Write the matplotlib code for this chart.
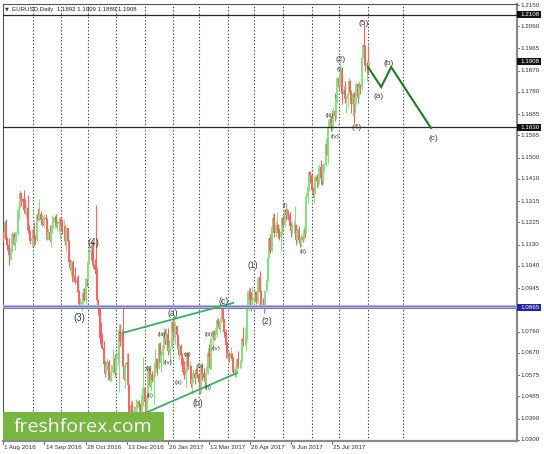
import numpy as np
import pandas as pd
import matplotlib
matplotlib.use("Agg")
import matplotlib.pyplot as plt
from matplotlib.patches import Rectangle

# ---------------- data ----------------
symbol_title = "EURUSD,Daily"
hdr_ohlc = [1.1892, 1.1909, 1.1889, 1.1908]
start_date, end_date = "2016-08-01", "2017-09-04"
first_open = 1.1175

closes = [
 1.1160,1.1225,1.1150,1.1130,1.1085, 1.1085,1.1115,1.1175,1.1135,1.1165,
 1.1180,1.1280,1.1290,1.1350,1.1325, 1.1315,1.1310,1.1265,1.1285,1.1195,
 1.1190,1.1145,1.1160,1.1195,1.1155, 1.1150,1.1255,1.1240,1.1260,1.1235,
 1.1240,1.1220,1.1245,1.1240,1.1155, 1.1185,1.1150,1.1190,1.1210,1.1225,
 1.1250,1.1215,1.1220,1.1225,1.1240, 1.1210,1.1205,1.1205,1.1145,1.1200,
 1.1145,1.1055,1.1030,1.1055,1.0970, 1.0995,1.0975,1.0970,1.0930,1.0880,
 1.0880,1.0885,1.0925,1.0895,1.0985, 1.0980,1.1055,1.1105,1.1100,1.1140,
 1.1045,1.1025,1.1005,1.0895,1.0855, 1.0735,1.0725,1.0690,1.0625,1.0585,
 1.0625,1.0630,1.0555,1.0560,1.0590, 1.0615,1.0645,1.0585,1.0645,1.0665,
 1.0765,1.0720,1.0750,1.0615,1.0560, 1.0620,1.0630,1.0535,1.0410,1.0450,
 1.0400,1.0385,1.0425,1.0440,1.0455, 1.0460,1.0455,1.0410,1.0490,1.0520,
 1.0460,1.0405,1.0485,1.0605,1.0530, 1.0575,1.0555,1.0580,1.0615,1.0645,
 1.0605,1.0710,1.0630,1.0660,1.0700, 1.0755,1.0730,1.0750,1.0680,1.0695,
 1.0695,1.0800,1.0760,1.0760,1.0785, 1.0745,1.0685,1.0700,1.0660,1.0640,
 1.0605,1.0575,1.0600,1.0670,1.0615, 1.0615,1.0540,1.0560,1.0585,1.0565,
 1.0600,1.0575,1.0545,1.0505,1.0620, 1.0580,1.0570,1.0545,1.0585,1.0670,
 1.0655,1.0605,1.0730,1.0765,1.0735, 1.0745,1.0810,1.0795,1.0780,1.0800,
 1.0865,1.0815,1.0760,1.0705,1.0650, 1.0670,1.0655,1.0665,1.0645,1.0590,
 1.0600,1.0610,1.0645,1.0615,1.0615, 1.0640,1.0730,1.0715,1.0715,1.0725,
 1.0865,1.0935,1.0895,1.0875,1.0895, 1.0905,1.0930,1.0885,1.0985,1.0995,
 1.0930,1.0875,1.0870,1.0865,1.0935, 1.0980,1.1075,1.1160,1.1105,1.1205,
 1.1245,1.1180,1.1215,1.1215,1.1180, 1.1165,1.1185,1.1245,1.1215,1.1280,
 1.1255,1.1275,1.1255,1.1210,1.1195, 1.1210,1.1210,1.1215,1.1150,1.1195,
 1.1150,1.1135,1.1165,1.1150,1.1195, 1.1180,1.1335,1.1375,1.1440,1.1425,
 1.1365,1.1350,1.1355,1.1420,1.1400, 1.1400,1.1460,1.1415,1.1400,1.1470,
 1.1475,1.1560,1.1515,1.1630,1.1665, 1.1640,1.1650,1.1700,1.1680,1.1750,
 1.1840,1.1805,1.1860,1.1865,1.1770, 1.1790,1.1755,1.1755,1.1770,1.1825,
 1.1780,1.1730,1.1770,1.1725,1.1760, 1.1815,1.1760,1.1805,1.1800,1.1925,
 1.1980,1.1970,1.1890,1.1905,1.1860, 1.1908]
highs = [
 1.1190,1.1235,1.1240,1.1165,1.1160, 1.1100,1.1125,1.1190,1.1185,1.1185,
 1.1190,1.1285,1.1300,1.1365,1.1350, 1.1330,1.1365,1.1325,1.1300,1.1340,
 1.1215,1.1190,1.1165,1.1200,1.1225, 1.1170,1.1265,1.1285,1.1325,1.1275,
 1.1260,1.1250,1.1260,1.1260,1.1245, 1.1200,1.1215,1.1215,1.1255,1.1250,
 1.1255,1.1260,1.1235,1.1250,1.1250, 1.1250,1.1240,1.1235,1.1215,1.1205,
 1.1195,1.1150,1.1070,1.1065,1.1065, 1.1005,1.1035,1.0995,1.1000,1.0940,
 1.0905,1.0895,1.0945,1.0945,1.0990, 1.0985,1.1075,1.1125,1.1125,1.1145,
 1.1125,1.1070,1.1300,1.1030,1.0900, 1.0855,1.0800,1.0755,1.0720,1.0635,
 1.0630,1.0650,1.0640,1.0590,1.0620, 1.0685,1.0655,1.0665,1.0665,1.0690,
 1.0795,1.0795,1.0770,1.0875,1.0620, 1.0630,1.0670,1.0670,1.0540,1.0470,
 1.0465,1.0415,1.0445,1.0475,1.0470, 1.0470,1.0470,1.0460,1.0500,1.0655,
 1.0525,1.0485,1.0490,1.0615,1.0620, 1.0585,1.0595,1.0630,1.0685,1.0650,
 1.0645,1.0715,1.0715,1.0680,1.0710, 1.0775,1.0770,1.0775,1.0775,1.0725,
 1.0700,1.0800,1.0825,1.0830,1.0800, 1.0785,1.0745,1.0710,1.0710,1.0670,
 1.0650,1.0635,1.0605,1.0680,1.0675, 1.0635,1.0615,1.0570,1.0600,1.0595,
 1.0620,1.0610,1.0575,1.0560,1.0625, 1.0620,1.0605,1.0575,1.0615,1.0690,
 1.0710,1.0665,1.0735,1.0765,1.0765, 1.0775,1.0820,1.0820,1.0805,1.0820,
 1.0905,1.0875,1.0815,1.0770,1.0715, 1.0675,1.0675,1.0695,1.0670,1.0655,
 1.0615,1.0620,1.0650,1.0680,1.0625, 1.0655,1.0735,1.0780,1.0775,1.0735,
 1.0935,1.0950,1.0945,1.0930,1.0955, 1.0925,1.0935,1.0935,1.0985,1.0995,
 1.1020,1.0940,1.0905,1.0885,1.0935, 1.0985,1.1080,1.1165,1.1175,1.1210,
 1.1265,1.1265,1.1230,1.1270,1.1220, 1.1200,1.1205,1.1250,1.1255,1.1285,
 1.1285,1.1285,1.1280,1.1270,1.1225, 1.1220,1.1230,1.1295,1.1220,1.1200,
 1.1210,1.1160,1.1175,1.1180,1.1210, 1.1210,1.1350,1.1375,1.1445,1.1445,
 1.1420,1.1375,1.1375,1.1425,1.1430, 1.1420,1.1475,1.1490,1.1440,1.1470,
 1.1480,1.1585,1.1585,1.1660,1.1680, 1.1680,1.1675,1.1715,1.1777,1.1750,
 1.1845,1.1845,1.1910,1.1880,1.1875, 1.1805,1.1825,1.1765,1.1775,1.1840,
 1.1830,1.1790,1.1780,1.1780,1.1780, 1.1820,1.1820,1.1825,1.1815,1.1940,
 1.1985,1.2070,1.1980,1.1910,1.1980, 1.1909]
lows = [
 1.1145,1.1150,1.1135,1.1110,1.1045, 1.1070,1.1065,1.1100,1.1130,1.1110,
 1.1145,1.1170,1.1240,1.1285,1.1295, 1.1280,1.1290,1.1260,1.1250,1.1180,
 1.1155,1.1135,1.1120,1.1125,1.1125, 1.1135,1.1145,1.1235,1.1230,1.1215,
 1.1205,1.1215,1.1200,1.1205,1.1150, 1.1150,1.1145,1.1120,1.1180,1.1200,
 1.1200,1.1205,1.1195,1.1185,1.1155, 1.1195,1.1175,1.1175,1.1130,1.1105,
 1.1140,1.1040,1.1025,1.1000,1.0970, 1.0970,1.0965,1.0955,1.0930,1.0860,
 1.0865,1.0850,1.0880,1.0890,1.0880, 1.0955,1.0975,1.1050,1.1065,1.1080,
 1.1030,1.1025,1.0905,1.0890,1.0830, 1.0710,1.0710,1.0685,1.0625,1.0570,
 1.0580,1.0600,1.0555,1.0545,1.0550, 1.0580,1.0600,1.0570,1.0585,1.0625,
 1.0505,1.0700,1.0695,1.0605,1.0555, 1.0520,1.0600,1.0525,1.0365,1.0395,
 1.0390,1.0350,1.0370,1.0420,1.0430, 1.0440,1.0425,1.0375,1.0410,1.0445,
 1.0460,1.0340,1.0395,1.0475,1.0525, 1.0510,1.0545,1.0455,1.0570,1.0590,
 1.0575,1.0600,1.0630,1.0590,1.0620, 1.0690,1.0710,1.0705,1.0660,1.0670,
 1.0620,1.0685,1.0720,1.0740,1.0710, 1.0700,1.0660,1.0640,1.0620,1.0590,
 1.0600,1.0560,1.0520,1.0595,1.0600, 1.0600,1.0525,1.0495,1.0545,1.0540,
 1.0565,1.0565,1.0495,1.0495,1.0510, 1.0555,1.0560,1.0525,1.0525,1.0580,
 1.0650,1.0600,1.0600,1.0700,1.0725, 1.0725,1.0740,1.0780,1.0770,1.0760,
 1.0800,1.0810,1.0740,1.0695,1.0650, 1.0635,1.0630,1.0640,1.0630,1.0580,
 1.0570,1.0570,1.0590,1.0605,1.0605, 1.0605,1.0635,1.0700,1.0705,1.0680,
 1.0820,1.0850,1.0880,1.0850,1.0865, 1.0880,1.0890,1.0880,1.0880,1.0945,
 1.0930,1.0865,1.0860,1.0840,1.0855, 1.0935,1.0975,1.1075,1.1095,1.1100,
 1.1195,1.1165,1.1165,1.1200,1.1160, 1.1150,1.1110,1.1170,1.1200,1.1205,
 1.1235,1.1240,1.1235,1.1195,1.1165, 1.1175,1.1180,1.1195,1.1130,1.1140,
 1.1140,1.1120,1.1120,1.1140,1.1150, 1.1165,1.1185,1.1310,1.1360,1.1395,
 1.1350,1.1335,1.1310,1.1345,1.1375, 1.1370,1.1390,1.1390,1.1385,1.1390,
 1.1440,1.1465,1.1510,1.1480,1.1625, 1.1615,1.1615,1.1625,1.1655,1.1665,
 1.1735,1.1790,1.1800,1.1820,1.1730, 1.1765,1.1735,1.1690,1.1715,1.1770,
 1.1765,1.1690,1.1680,1.1650,1.1690, 1.1730,1.1735,1.1755,1.1770,1.1790,
 1.1925,1.1950,1.1870,1.1825,1.1860, 1.1889]

# price axis
ytick_vals = [1.2150,1.2060,1.1965,1.1870,1.1780,1.1685,1.1595,1.1500,1.1410,
              1.1315,1.1225,1.1130,1.1040,1.0945,1.0760,1.0670,1.0575,1.0485,
              1.0390,1.0300]
level_black = [1.2108, 1.1630]
level_blue = 1.0865
bid_price = 1.1908
date_label_dates = ["2016-08-01","2016-09-14","2016-10-28","2016-12-13","2017-01-26",
                    "2017-03-13","2017-04-26","2017-06-09","2017-07-25"]
future_grid_bar = 311

# wedge lines (bar index, price)
upper_line = [(92.6, 1.0755), (179.0, 1.0883)]
lower_line = [(110.5, 1.0415), (182.0, 1.0585)]
# projected zigzag
zz_bars = [284.0, 294.2, 302.0, 333.0]
zz_prices = [1.1886, 1.1801, 1.1886, 1.1627]

big_labels = [("(3)",59.1,1.0819,7.0),("(4)",70.0,1.1138,7.0),
              ("(a)",132.3,1.0840,6.2),("(c)",171.2,1.0891,6.2),("(b)",151.8,1.0457,6.2),
              ("(1)",194.6,1.1044,6.2),("(2)",205.4,1.0802,6.2),
              ("(2)",262.3,1.1920,6.0),("(4)",274.7,1.1627,6.0),("(5)",280.9,1.2073,6.0),
              ("(a)",291.8,1.1759,6.0),("(b)",300.4,1.1903,6.0),("(c)",334.6,1.1584,6.0)]
small_labels = [("(iii)",254.5,1.1678),("(iv)",258.4,1.1589),("(v)",262.3,1.1874),
                ("(i)",219.5,1.1299),("(ii)",233.5,1.1100),
                ("(iii)",123.5,1.0750),("(iv)",128.0,1.0630),("(i)",113.0,1.0605),
                ("(ii)",114.5,1.0490),("(a)",136.0,1.0545),("(b)",143.0,1.0665),
                ("(c)",153.0,1.0617),("(iii)",160.0,1.0750),("(iv)",165.5,1.0690),
                ("(ii)",159.5,1.0525)]

# ---------------- figure ----------------
W, H = 544, 454
plt.rcParams['font.family'] = ['Liberation Sans', 'DejaVu Sans']
fig = plt.figure(figsize=(W/100, H/100), dpi=100)
fig.patch.set_facecolor('white')
L, R, T, B = 3, 516.5, 3.5, 441
ax = fig.add_axes([L/W, (H-B)/H, (R-L)/W, (B-T)/H])
x0, dx = 3.0, 1.285
p5, dp = 1.2150, 0.0004253
ax.set_xlim((L-x0)/dx - 0.3, (R-x0)/dx)
ax.set_ylim(p5-(B-5)*dp, p5+(5-T)*dp)
ax.set_xticks([]); ax.set_yticks([])
for s in ['top','left']:
    ax.spines[s].set_color('#555555'); ax.spines[s].set_linewidth(0.8)
for s in ['right','bottom']:
    ax.spines[s].set_color('#8a8a8a'); ax.spines[s].set_linewidth(1.6)

dates = pd.bdate_range(start_date, end_date)
n = len(dates)
idx = np.arange(n)
c = np.array(closes); h = np.array(highs); lo = np.array(lows)
o = np.array([first_open] + closes[:-1]); o[-1] = hdr_ohlc[0]
h = np.maximum(h, np.maximum(o, c)); lo = np.minimum(lo, np.minimum(o, c))
up = c >= o
cols = np.where(up, '#84e184', '#ff6262')

# month grid
month_first = [i for i in range(1, n) if dates[i].month != dates[i-1].month]
for gi in month_first + [future_grid_bar]:
    ax.axvline(gi, color='#444444', lw=0.8, ls=(0, (1.2, 1.8)), zorder=1)

ax.vlines(idx, lo, h, colors=cols, lw=0.8, zorder=3)
ax.vlines(idx, np.minimum(o, c), np.maximum(o, c), colors=cols, lw=1.4, zorder=3)

for lv in level_black:
    ax.axhline(lv, color='#2a2a2a', lw=0.9, zorder=4)
ax.axhline(level_blue, color='#b8b8e4', lw=3.0, zorder=4)
ax.axhline(level_blue + 0.00055, color='#7474bc', lw=0.7, zorder=4)
ax.axhline(level_blue - 0.00055, color='#7474bc', lw=0.7, zorder=4)

for ln in (upper_line, lower_line):
    ax.plot([ln[0][0], ln[1][0]], [ln[0][1], ln[1][1]], color='#39b062', lw=1.3, zorder=5)
ax.plot(zz_bars, zz_prices, color='#23772a', lw=1.5, zorder=5, solid_joinstyle='miter')

for t, xi, pv, fs in big_labels:
    ax.text(xi, pv, t, fontsize=fs, color='#3c3c3c', ha='center', va='center', zorder=6)
for t, xi, pv in small_labels:
    ax.text(xi, pv, t, fontsize=4.6, color='#3c3c3c', ha='center', va='center', zorder=6)

# right price scale
yt = ax.get_yaxis_transform()
fx = lambda px: (px - L) / (R - L)
for v in ytick_vals:
    ax.plot([1.0, fx(519)], [v, v], transform=yt, color='#555555', lw=0.6, clip_on=False)
    ax.text(fx(520), v, f"{v:.4f}", transform=yt, fontsize=4.5, color='#333333',
            ha='left', va='center', clip_on=False)
def box_label(v, fc):
    ax.add_patch(Rectangle((fx(517), v - 3.5*dp), fx(541)-fx(517), 7*dp, transform=yt,
                           facecolor=fc, edgecolor='none', clip_on=False, zorder=7))
    ax.text(fx(520), v, f"{v:.4f}", transform=yt, fontsize=4.5, color='white',
            ha='left', va='center', clip_on=False, zorder=8)
for v in level_black + [bid_price]:
    box_label(v, '#111111')
box_label(level_blue, '#23239a')

# date labels
xt = ax.get_xaxis_transform()
fy = lambda py: (B - py) / (B - T)
for ds in date_label_dates:
    d = pd.Timestamp(ds)
    i = dates.get_loc(d)
    ax.plot([i, i], [0, fy(444)], transform=xt, color='#555555', lw=0.6, clip_on=False)
    ax.text(i + 0.8, fy(447.5), f"{d.day} {d.strftime('%b %Y')}", transform=xt,
            fontsize=4.5, color='#333333', ha='left', va='center', clip_on=False)

# header
fig.text(5/W, 1 - 9/H, "\u25bc", fontsize=3.5, color='#333333', family='DejaVu Sans',
         ha='left', va='center')
fig.text(12/W, 1 - 9/H, f"{symbol_title}  " + " ".join(f"{v:.4f}" for v in hdr_ohlc),
         fontsize=4.4, color='#222222', ha='left', va='center')

# logo
fig.add_artist(Rectangle((3/W, (H-440)/H), 161/W, 28/H, transform=fig.transFigure,
                         facecolor='#79b543', edgecolor='none', zorder=10))
fig.text(83.5/W, 1 - 427/H, "freshforex.com", fontsize=14, color='white',
         family=['Open Sans', 'DejaVu Sans'], ha='center', va='center', zorder=11)

fig.savefig("out.png", dpi=100, facecolor='white')
